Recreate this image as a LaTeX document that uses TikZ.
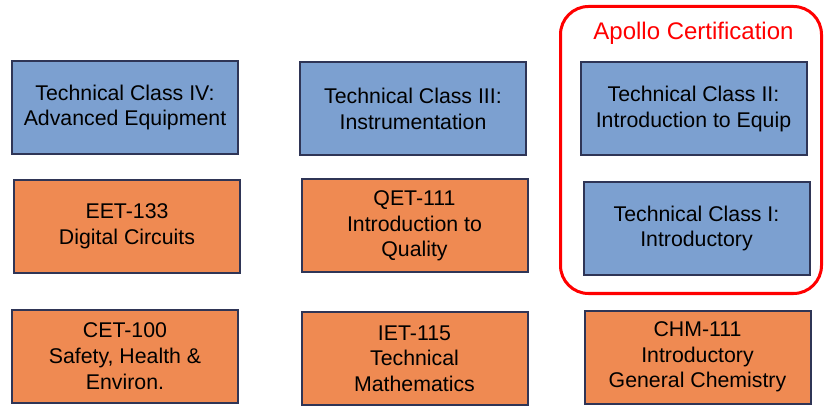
\documentclass[tikz,border=0pt]{standalone}
\usepackage{fontspec}
\setmainfont{Liberation Sans}
\definecolor{boxblue}{RGB}{124,160,208}
\definecolor{boxorange}{RGB}{239,138,82}
\definecolor{boxline}{RGB}{47,53,86}
\definecolor{apred}{RGB}{255,0,0}
\tikzset{
  course/.style={rectangle, draw=boxline, line width=2pt, minimum width=226pt, minimum height=93pt,
    align=center, inner sep=0pt, font=\fontsize{21.3}{25.7}\selectfont, text=black},
  techbox/.style={course, fill=boxblue},
  reqbox/.style={course, fill=boxorange},
}
\begin{document}
\begin{tikzpicture}[x=1pt,y=-1pt]
\useasboundingbox (0,0) rectangle (825,406);
% Apollo certification frame
\draw[apred, line width=3pt, rounded corners=28pt] (560.5,6.5) rectangle (821.5,293.5);
\node[text=apred, font=\fontsize{24}{28}\selectfont, inner sep=0pt] (apollo) at (693.5,33) {Apollo Certification};
% top row
\node[techbox] (t4) at (125,107.5) {Technical Class IV:\\Advanced Equipment};
\node[techbox] (t3) at (413,109) {Technical Class III:\\Instrumentation};
\node[techbox] (t2) at (693.5,109) {Technical Class II:\\Introduction to Equip};
% middle row
\node[reqbox] (eet) at (127,226.5) {EET-133\\Digital Circuits};
\node[reqbox] (qet) at (414.5,226) {QET-111\\Introduction to\\Quality};
\node[techbox] (t1) at (696.5,228.5) {Technical Class I:\\Introductory};
% bottom row
\node[reqbox] (cet) at (125,356) {CET-100\\Safety, Health \&\\Environ.};
\node[reqbox] (iet) at (414.5,358.5) {IET-115\\Technical\\Mathematics};
\node[reqbox] (chm) at (697.5,357) {CHM-111\\Introductory\\General Chemistry};
\end{tikzpicture}
\end{document}
